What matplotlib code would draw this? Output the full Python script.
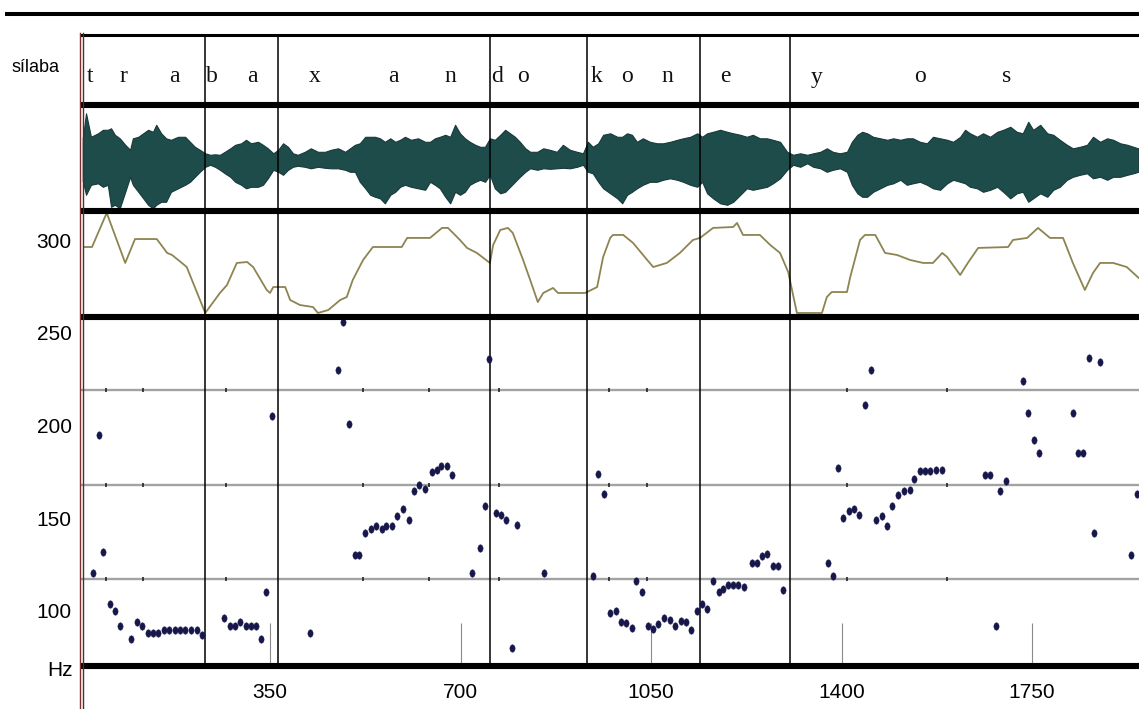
import matplotlib
matplotlib.use("Agg")
import matplotlib.pyplot as plt
from matplotlib.path import Path
from matplotlib.transforms import Affine2D

plt.rcParams['font.family'] = ['Liberation Sans Narrow', 'Liberation Sans', 'DejaVu Sans']

# ---------------- data (time units on the x axis, Hz on pitch panels) ----------------
syllable_bounds = [231, 365, 754, 932, 1140, 1305]
segment_letters = ['t', 'r', 'a', 'b', 'a', 'x', 'a', 'n', 'd', 'o', 'k', 'o', 'n', 'e', 'y', 'o', 's']
segment_times = [19, 80, 175, 243, 317, 433, 576, 681, 767, 815, 949, 1006, 1079, 1186, 1355, 1544, 1704]

wave_t = [6, 12, 21, 34, 43, 52, 58, 65, 74, 84, 93, 98, 108, 117, 126, 135, 141, 150, 159, 168,
          181, 194, 203, 212, 221, 231, 240, 249, 258, 267, 277, 286, 297, 306, 315, 328, 337, 346, 356, 365,
          374, 383, 392, 401, 414, 425, 438, 451, 462, 475, 488, 497, 506, 515, 525, 534, 543, 552, 561, 571,
          580, 589, 598, 609, 622, 635,
          644, 653, 662, 672, 681, 690, 699, 708, 717, 727, 736, 745, 754, 763, 773, 782, 791, 800, 809, 819,
          828, 841, 852, 864, 877, 888, 901, 914, 925, 934, 943, 953, 962, 975, 988, 997, 1006, 1015, 1024, 1035,
          1048, 1061, 1072, 1085, 1098, 1109, 1122, 1135, 1144, 1153, 1164, 1177, 1190, 1201, 1214, 1226, 1237,
          1250, 1263, 1274, 1287,
          1300, 1311, 1324, 1337, 1348, 1361, 1373, 1384, 1397, 1410, 1419, 1429, 1438, 1447, 1458, 1471, 1484,
          1495, 1508, 1520, 1531, 1544, 1557, 1568, 1581, 1594, 1605, 1618, 1627, 1636, 1649, 1660, 1673, 1686,
          1697, 1710, 1722, 1733, 1743, 1752, 1765, 1778, 1789, 1801, 1814, 1825, 1838, 1851, 1862, 1875, 1888,
          1899, 1912, 1925, 1936, 1945]
wave_top = [40, 90, 43, 50, 57, 57, 60, 47, 40, 27, 17, 40, 43, 50, 57, 53, 67, 50, 40, 37,
            43, 43, 33, 23, 17, 10, 7, 8, 7, 13, 20, 27, 30, 37, 30, 33, 27, 20, 10, 17,
            30, 23, 10, 7, 13, 20, 13, 13, 17, 20, 13, 20, 27, 30, 43, 43, 43, 40, 33, 40,
            33, 37, 43, 37, 40, 33,
            33, 40, 43, 47, 43, 67, 50, 40, 33, 27, 23, 23, 40, 37, 47, 57, 50, 43, 33, 20,
            13, 13, 20, 17, 13, 27, 17, 13, 10, 33, 23, 30, 47, 50, 43, 43, 50, 47, 33, 40,
            33, 30, 30, 33, 37, 40, 43, 50, 43, 50, 53, 57, 53, 50, 47, 43, 47, 40, 40, 37, 33,
            13, 7, 10, 7, 10, 13, 20, 13, 10, 13, 33, 47, 53, 50, 43, 40, 37, 40, 37, 40,
            40, 33, 30, 43, 40, 37, 33, 43, 57, 50, 43, 50, 43, 53, 57, 63, 53, 50, 73, 57,
            67, 50, 47, 37, 27, 20, 23, 27, 43, 33, 40, 37, 30, 27, 23, 20]
wave_bot = [-45, -73, -53, -50, -57, -53, -97, -93, -100, -67, -37, -53, -67, -80, -93, -100, -93, -87, -87, -67,
            -60, -53, -47, -37, -27, -17, -13, -17, -23, -30, -37, -47, -53, -60, -57, -57, -53, -40, -23, -27,
            -33, -23, -17, -15, -17, -20, -17, -19, -20, -20, -23, -27, -27, -47, -60, -73, -77, -80, -90, -73,
            -67, -57, -53, -57, -60, -63,
            -47, -53, -60, -77, -90, -67, -73, -67, -53, -47, -43, -47, -33, -60, -70, -67, -57, -47, -37, -27,
            -20, -23, -20, -21, -20, -19, -20, -17, -13, -27, -30, -47, -60, -70, -80, -90, -73, -67, -60, -53,
            -47, -47, -43, -40, -43, -47, -53, -57, -47, -70, -80, -90, -93, -87, -73, -60, -63, -60, -57, -50, -40,
            -23, -13, -17, -10, -17, -20, -27, -23, -20, -27, -53, -70, -77, -77, -67, -60, -53, -50, -43, -53,
            -50, -47, -53, -60, -63, -50, -43, -47, -50, -57, -60, -67, -63, -57, -67, -80, -70, -67, -87, -80,
            -70, -77, -63, -57, -43, -37, -33, -30, -40, -37, -43, -37, -37, -33, -30, -27]

contour_t = [10, 23, 50, 84, 102, 142, 161, 170, 188, 197, 231,
             258, 271, 289, 308, 319, 344, 350, 356, 378, 387, 405, 429, 438, 457, 479, 491, 502, 521, 539,
             592, 602, 644, 666, 677, 699, 712, 730, 754,
             760, 773, 787, 796, 815, 828, 842, 852, 870, 879, 929, 951, 962, 975, 980, 999, 1017, 1043,
             1054, 1079, 1103, 1127, 1140, 1164, 1201, 1208, 1219, 1250, 1269, 1287, 1302, 1318,
             1364, 1373, 1382, 1410, 1416, 1434, 1443, 1462, 1480, 1502, 1526, 1550, 1568, 1585, 1594,
             1618, 1632, 1651, 1706, 1715, 1741, 1761, 1783, 1807, 1825, 1847, 1862, 1875, 1899, 1924, 1946]
contour_hz = [296.4, 296.4, 314.8, 287.8, 300.7, 300.7, 293.2, 292.1, 287.8, 285.6, 260.8,
              271.6, 275.9, 287.8, 288.3, 285.6, 273.2, 271.6, 274.8, 274.8, 267.8, 265.1, 264.0, 260.8,
              262.4, 267.8, 269.4, 278.6, 289.4, 296.4,
              296.4, 301.3, 301.3, 306.7, 306.7, 300.2, 295.9, 293.2, 287.8,
              297.5, 305.6, 306.7, 304.0, 289.4, 278.6, 266.7, 271.6, 274.3, 271.6, 271.6, 274.8, 291.0,
              301.3, 302.9, 302.9, 298.6, 289.4, 285.6, 287.8, 293.2, 300.2, 301.3, 306.7, 307.2, 309.4,
              302.9, 302.9, 297.5, 293.2, 282.9, 260.8,
              260.8, 269.4, 272.1, 272.1, 280.2, 300.2, 302.9, 302.9, 293.2, 292.1, 289.4, 287.8, 287.8,
              293.2, 291.0, 281.3, 287.8, 295.9, 296.4, 300.2, 301.3, 306.7, 301.3, 301.3, 287.8, 273.2,
              282.4, 287.8, 287.8, 285.6, 279.7]

dot_t = [25, 36, 43, 56, 65, 74, 94, 106, 115, 126, 135, 144, 155, 164, 175, 184, 194, 204, 215, 225,
         265, 276, 285, 295, 305, 315, 325, 334, 343, 354,
         424, 475, 484, 495, 506, 514, 525, 536, 545, 555, 564, 574, 584, 594, 605, 615, 624, 634, 647, 656,
         665, 675, 684,
         722, 735, 745, 753, 765, 774, 783, 794, 804, 853,
         944, 953, 964, 975, 985, 994, 1004, 1015, 1022, 1034, 1045, 1054, 1063, 1074, 1084, 1094, 1105,
         1114, 1123, 1134, 1143, 1152,
         1164, 1174, 1183, 1192, 1201, 1210, 1221, 1235, 1244, 1253, 1263, 1275, 1284, 1293,
         1375, 1385, 1393, 1403, 1414, 1423, 1433, 1444, 1455, 1463, 1474, 1484, 1493, 1504, 1515, 1525,
         1534, 1544, 1553, 1563, 1573, 1584,
         1664, 1673, 1684, 1691, 1703, 1733, 1743, 1754, 1763, 1825, 1834, 1844, 1855, 1863, 1874, 1932, 1942]
dot_hz = [120.5, 195, 132, 104, 100, 92, 85, 94, 92, 88, 88, 88, 89.5, 89.5, 89.5, 89.5, 89.5, 89.5, 89.5, 87,
          96, 92, 92, 94, 92, 92, 92, 85, 110, 205,
          88, 230, 256, 201, 130, 130, 142, 144, 146, 144, 146, 146, 151, 155, 149, 165, 168, 166, 175, 176,
          178, 178, 173.5,
          120.5, 134, 156.5, 236, 153, 152, 149, 80, 146.5, 120.5,
          119, 174, 163, 99, 100, 94, 93.5, 91, 116, 110, 92, 90, 93, 96, 95, 92, 94.5,
          94, 89.5, 100, 104, 101,
          116, 110, 112, 114, 114, 114, 113, 126, 126, 129.5, 131, 124, 124, 111.5,
          126, 119, 177, 150, 154, 155, 152, 211, 230, 149, 151.5, 146, 156.5, 162.7, 165, 165.4,
          171, 175.4, 175.4, 175.4, 176, 176,
          173.5, 173.5, 92, 164.6, 170, 224, 207, 192, 185, 207, 185, 185, 236.5, 142, 234.4, 130, 163]

grid_hz = [219, 168, 117]
grid_mark_t = [48, 117, 269, 520, 642, 771, 973, 1043, 1410, 1593]
time_ticks = [350, 700, 1050, 1400, 1750]
hz_ticks = [250, 200, 150, 100]
contour_ticks = [300]

# ---------------- layout ----------------
W, H = 1139, 709
fig = plt.figure(figsize=(W / 100, H / 100), dpi=100)
fig.patch.set_facecolor('white')


def fr(l, t, r, b):
    return [l / W, 1 - b / H, (r - l) / W, (b - t) / H]


X0 = 79.5
T_MAX = 1946.5
ax_tier = fig.add_axes(fr(X0, 35, W, 105))
ax_wave = fig.add_axes(fr(X0, 105, W, 210.5))
ax_cont = fig.add_axes(fr(X0, 210.5, W, 316.5))
ax_dots = fig.add_axes(fr(X0, 316.5, W, 666))

for ax in (ax_tier, ax_wave, ax_cont, ax_dots):
    ax.set_xlim(0, T_MAX)
    ax.patch.set_alpha(0)
    for s in ax.spines.values():
        s.set_visible(False)
    ax.set_xticks([])
    ax.set_yticks([])
    for b in syllable_bounds:
        ax.axvline(b, color='black', lw=1.1, zorder=3)

# syllable tier
ax_tier.set_ylim(0, 1)
for ch, t in zip(segment_letters, segment_times):
    ax_tier.text(t, 0.4, ch, ha='center', va='center', fontsize=17,
                 family=['Liberation Serif', 'DejaVu Serif'], color='#111111')

# waveform
ax_wave.set_ylim(-104.4, 106.6)
ax_wave.fill_between(wave_t, wave_bot, wave_top, color='#1d4c4a', lw=0.8, edgecolor='#173a39')

# pitch contour
ax_cont.set_ylim(258.9, 316.1)
ax_cont.plot(contour_t, contour_hz, color='#8d8452', lw=1.3, zorder=2)
ax_cont.set_yticks(contour_ticks)
ax_cont.set_yticklabels([str(v) for v in contour_ticks])
ax_cont.tick_params(axis='y', length=0, pad=5.5, labelsize=15)

# pitch points
ax_dots.set_ylim(70.3, 258.9)
for g in grid_hz:
    ax_dots.axhline(g, color='#a2a2a2', lw=1.7, zorder=1)
    ax_dots.plot(grid_mark_t, [g] * len(grid_mark_t), ls='none', marker='|', ms=3,
                 mew=1.2, color='#222222', zorder=2)
ell = Path.unit_circle().transformed(Affine2D().scale(0.7, 1.0))
ax_dots.plot(dot_t, dot_hz, ls='none', marker=ell, ms=5.4, mfc='#17174c', mec='#17174c',
             mew=0.3, zorder=4, clip_on=False)
ax_dots.set_yticks(hz_ticks)
ax_dots.set_yticklabels([str(v) for v in hz_ticks])
ax_dots.tick_params(axis='y', length=0, pad=5.5, labelsize=15)
ax_dots.set_xticks(time_ticks)
ax_dots.set_xticklabels([str(v) for v in time_ticks])
ax_dots.tick_params(axis='x', direction='in', length=31, width=0.8, color='#8a8a8a',
                    pad=12, labelsize=15)

fig.text(73 / W, 1 - 670 / H, 'Hz', ha='right', va='center', fontsize=15)
fig.text(12 / W, 1 - 68 / H, 'sílaba', ha='left', va='center', fontsize=13)

# frame lines (overlay in pixel space)
ov = fig.add_axes([0, 0, 1, 1], zorder=10)
ov.set_xlim(0, W)
ov.set_ylim(H, 0)
ov.axis('off')
ov.patch.set_alpha(0)
ov.plot([5, W], [14, 14], color='black', lw=2.9, solid_capstyle='butt')
ov.plot([X0, W], [35, 35], color='black', lw=2.2, solid_capstyle='butt')
for yy in (105, 210.5, 316.5, 666):
    ov.plot([X0, W], [yy, yy], color='black', lw=4.4, solid_capstyle='butt')
ov.plot([79.5, 79.5], [33, H], color='#7a3232', lw=1.0)
ov.plot([83, 83], [33, H], color='#5a2626', lw=1.0)

fig.savefig('out.png', dpi=100, facecolor='white')
